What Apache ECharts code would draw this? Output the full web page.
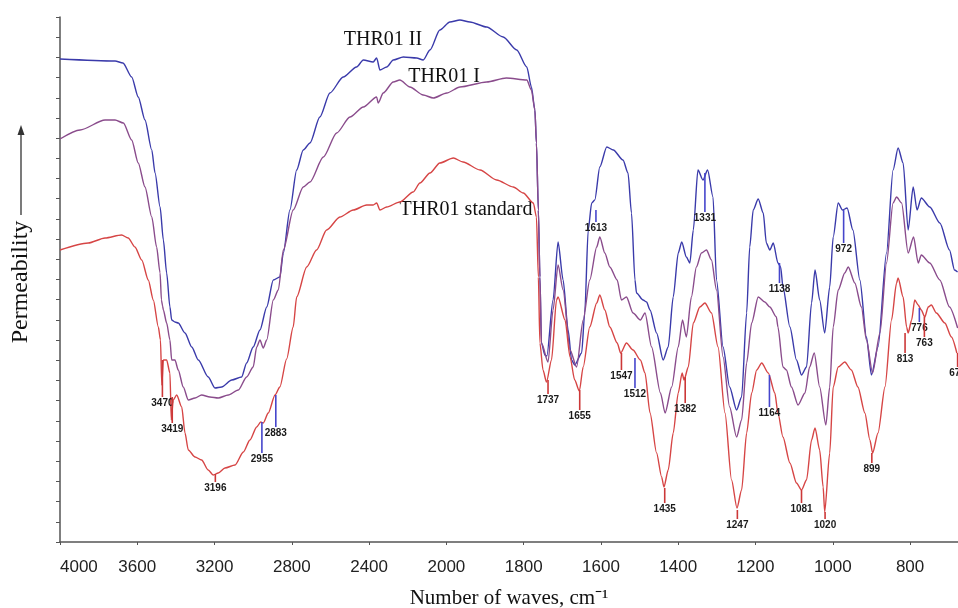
<!DOCTYPE html>
<html><head><meta charset="utf-8">
<script src="https://cdn.jsdelivr.net/npm/echarts@6/dist/echarts.min.js"></script>
<style>html,body{margin:0;padding:0;background:#fff}#c{width:958px;height:608px}</style>
</head><body><div id="c"></div>
<script>
// x tick labels (wavenumber, cm-1)
const tickWaves = [4000,3600,3200,2800,2400,2000,1800,1600,1400,1200,1000,800];

// [wavenumber, relative permeability]
const thr01II = [[4000,483],[3715,481],[3674,479],[3629,465],[3595,445],[3560,422],[3525,392],[3508,369],[3482,335],[3465,302],[3448,269],[3431,235],[3422,222],[3405,220],[3388,219],[3353,209],[3318,195],[3284,182],[3233,165],[3198,154],[3163,155],[3111,162],[3060,165],[3034,179],[3000,195],[2965,212],[2930,235],[2896,262],[2862,265],[2844,289],[2810,332],[2775,372],[2741,392],[2706,399],[2655,425],[2603,449],[2534,465],[2465,475],[2430,482],[2379,480],[2361,484],[2344,472],[2309,475],[2275,482],[2223,485],[2154,484],[2120,482],[2085,492],[2034,512],[1991,520],[1965,522],[1939,520],[1896,515],[1853,505],[1818,492],[1792,475],[1780,455],[1771,432],[1767,399],[1762,332],[1758,265],[1754,199],[1745,187],[1740,186],[1724,242],[1711,300],[1698,262],[1685,212],[1676,182],[1668,177],[1650,189],[1642,229],[1633,312],[1624,339],[1616,342],[1603,375],[1585,395],[1568,392],[1543,382],[1530,369],[1521,329],[1512,262],[1508,249],[1491,242],[1482,240],[1473,232],[1456,209],[1439,182],[1426,195],[1413,245],[1400,289],[1391,300],[1379,285],[1370,279],[1361,312],[1349,372],[1336,362],[1324,372],[1310,345],[1301,262],[1284,195],[1267,155],[1249,132],[1236,145],[1223,229],[1215,295],[1206,332],[1193,343],[1180,329],[1172,299],[1163,292],[1154,299],[1142,279],[1135,275],[1129,255],[1111,215],[1094,182],[1081,167],[1068,175],[1055,239],[1046,272],[1034,242],[1021,209],[1008,255],[999,305],[986,339],[975,332],[963,334],[948,312],[930,262],[913,205],[900,167],[883,195],[861,289],[844,372],[831,394],[818,379],[805,312],[792,355],[782,332],[771,344],[749,335],[723,319],[698,292],[685,272],[677,270]];

const thr01I = [[4000,403],[3896,412],[3767,422],[3715,422],[3672,419],[3629,402],[3595,379],[3560,355],[3525,325],[3500,295],[3482,269],[3475,242],[3469,236],[3465,232],[3448,219],[3431,202],[3422,182],[3405,182],[3388,172],[3362,155],[3336,142],[3301,144],[3267,147],[3224,145],[3181,144],[3129,147],[3077,152],[3034,165],[3000,175],[2982,195],[2965,202],[2948,194],[2930,202],[2896,242],[2870,252],[2844,292],[2793,332],[2741,355],[2706,360],[2637,385],[2568,409],[2499,425],[2430,435],[2361,445],[2353,439],[2327,449],[2275,460],[2241,462],[2189,455],[2120,447],[2068,444],[1999,449],[1965,455],[1896,460],[1845,464],[1792,462],[1780,452],[1771,432],[1767,399],[1762,332],[1758,265],[1754,199],[1737,180],[1724,232],[1711,277],[1698,252],[1680,192],[1663,175],[1646,222],[1629,262],[1611,295],[1603,305],[1590,289],[1577,275],[1558,262],[1547,242],[1534,245],[1517,229],[1498,222],[1486,229],[1469,195],[1446,149],[1434,129],[1417,155],[1400,195],[1389,222],[1379,205],[1366,245],[1353,275],[1340,289],[1327,292],[1314,282],[1301,252],[1284,185],[1267,135],[1249,105],[1236,122],[1223,179],[1210,219],[1193,245],[1176,240],[1163,235],[1146,225],[1142,215],[1129,175],[1120,172],[1107,155],[1090,137],[1072,149],[1060,175],[1048,189],[1034,155],[1018,117],[1008,155],[999,215],[986,252],[969,269],[960,275],[943,259],[926,235],[913,202],[897,169],[878,209],[861,279],[844,339],[835,345],[822,339],[805,289],[791,305],[779,279],[771,287],[749,279],[723,262],[698,235],[677,214]];

const thr01Std = [[4000,292],[3854,299],[3767,304],[3681,307],[3647,304],[3612,295],[3577,282],[3543,262],[3517,242],[3491,215],[3480,202],[3473,157],[3465,182],[3448,182],[3431,169],[3424,122],[3414,142],[3396,147],[3370,135],[3353,109],[3336,92],[3301,85],[3267,82],[3233,72],[3207,67],[3181,69],[3146,74],[3094,77],[3051,90],[3017,102],[2982,115],[2961,120],[2948,119],[2922,129],[2887,147],[2862,155],[2827,183],[2793,215],[2775,245],[2723,275],[2672,292],[2620,312],[2551,325],[2482,332],[2413,337],[2379,337],[2361,339],[2344,332],[2309,335],[2241,340],[2172,350],[2137,359],[2085,369],[2034,379],[1982,384],[1957,380],[1913,372],[1870,362],[1827,355],[1801,349],[1775,339],[1767,325],[1762,265],[1758,199],[1750,172],[1741,160],[1728,182],[1715,242],[1711,245],[1693,222],[1680,185],[1668,162],[1656,151],[1646,175],[1629,215],[1611,239],[1603,247],[1590,232],[1577,215],[1558,199],[1549,189],[1534,199],[1517,192],[1498,182],[1486,169],[1473,129],[1456,89],[1443,65],[1437,55],[1426,72],[1413,109],[1400,149],[1390,169],[1385,162],[1374,175],[1361,219],[1344,235],[1331,239],[1314,229],[1297,195],[1279,129],[1262,62],[1248,34],[1236,52],[1223,109],[1210,149],[1197,172],[1184,179],[1167,169],[1150,149],[1142,129],[1129,105],[1111,79],[1094,59],[1081,52],[1068,62],[1055,102],[1046,114],[1034,92],[1025,55],[1021,30],[1008,89],[999,155],[986,175],[969,180],[952,172],[935,155],[917,129],[904,102],[897,89],[883,109],[865,155],[848,222],[835,259],[831,264],[818,245],[809,215],[805,209],[796,222],[788,242],[779,237],[771,232],[762,225],[753,235],[745,237],[732,229],[710,219],[693,205],[679,189]];

// peak annotations
const peakWaves  = [3470,3419,3196,2955,2883,1737,1655,1613,1547,1512,1435,1382,1331,1247,1164,1138,1081,1020,972,899,813,776,763,677];
const peakLabels = ['3470','3419','3196','2955','2883','1737','1655','1613','1547','1512','1435','1382','1331','1247','1164','1138','1081','1020','972','899','813','776','763','675'];
const peakTop    = [182,145,68,120,147,162,152,332,189,184,54,165,369,32,167,279,52,30,332,89,209,234,225,189];
const peakBottom = [145,119,60,89,115,148,132,320,172,154,39,139,330,23,135,259,39,23,299,79,189,220,205,175];
const peakOn     = ['std','std','std','II','II','std','std','II','std','II','std','std','II','std','II','II','std','std','II','std','std','II','std','std'];

// the spectrometer plot is expanded 2x below 2000 cm-1
function toPos(w){ return w >= 2000 ? 4000 - w : 2000 + 2 * (2000 - w); }
function toWave(p){ return p <= 2000 ? 4000 - p : 2000 - (p - 2000) / 2; }

const colII = '#3a3aaa', colI = '#8a4c8c', colStd = '#d64545';
const markCol = {II: '#4646cc', std: '#cc3838'};

const chart = echarts.init(document.getElementById('c'), null, {renderer: 'canvas'});
const conv = arr => arr.map(d => [toPos(d[0]), d[1]]);
const lineSeries = (name, data, color) => ({
  name, type: 'line', data: conv(data), showSymbol: false, symbol: 'none',
  smooth: 0.25, smoothMonotone: 'x',
  lineStyle: {color, width: 1.4}, itemStyle: {color}, z: 2
});

chart.setOption({
  animation: false,
  backgroundColor: '#fff',
  grid: {left: 60, top: 17, width: 898, height: 525, containLabel: false, outerBoundsMode: 'none'},
  xAxis: {
    type: 'value', min: 0, max: toPos(676), interval: 400,
    axisLine: {show: true, lineStyle: {color: '#555', width: 1.5}},
    axisTick: {show: true, length: 3, lineStyle: {color: '#555'}},
    splitLine: {show: false},
    axisLabel: {
      fontFamily: 'Liberation Sans', fontSize: 17, color: '#222', margin: 17,
      showMaxLabel: false, alignMinLabel: 'left',
      formatter: p => { const w = Math.round(toWave(p)); return tickWaves.includes(w) ? String(w) : ''; }
    },
    name: 'Number of waves, cm\u207B\u00B9', nameLocation: 'middle', nameGap: 46,
    nameTextStyle: {fontFamily: 'Liberation Serif', fontSize: 21, color: '#111'}
  },
  yAxis: {
    type: 'value', min: 0, max: 525, interval: 525 / 26,
    axisLine: {show: true, lineStyle: {color: '#555', width: 1.5}},
    axisTick: {show: true, length: 4, lineStyle: {color: '#555'}},
    axisLabel: {show: false}, splitLine: {show: false}
  },
  series: [
    lineSeries('THR01 II', thr01II, colII),
    lineSeries('THR01 I', thr01I, colI),
    lineSeries('THR01 standard', thr01Std, colStd),
    {
      type: 'custom', name: 'peaks', clip: false, z: 3,
      data: peakWaves.map((w, i) => [toPos(w), peakTop[i], peakBottom[i], i]),
      encode: {x: 0, y: [1, 2]},
      renderItem: (params, api) => {
        const i = api.value(3);
        const p1 = api.coord([api.value(0), api.value(1)]);
        const p2 = api.coord([api.value(0), api.value(2)]);
        return {type: 'group', children: [
          {type: 'line', shape: {x1: p1[0], y1: p1[1], x2: p2[0], y2: p2[1]},
           style: {stroke: markCol[peakOn[i]], lineWidth: 1.6}},
          {type: 'text', x: p2[0], y: p2[1] + 1,
           style: {text: peakLabels[i], fill: '#1a1a1a', font: 'bold 10px "Liberation Sans"',
                   align: 'center', verticalAlign: 'top'}}
        ]};
      }
    }
  ],
  graphic: [
    {type: 'text', x: 21, y: 282, rotation: Math.PI / 2,
     style: {text: 'Permeability', font: '24px "Liberation Serif"', fill: '#111', align: 'center', verticalAlign: 'middle'}},
    {type: 'line', shape: {x1: 21, y1: 215, x2: 21, y2: 133}, style: {stroke: '#333', lineWidth: 1.3}},
    {type: 'polygon', shape: {points: [[21, 125], [17.5, 135], [24.5, 135]]}, style: {fill: '#333'}},
    {type: 'text', x: 383, y: 40, style: {text: 'THR01 II', font: '20px "Liberation Serif"', fill: '#111', align: 'center', verticalAlign: 'middle'}},
    {type: 'text', x: 444, y: 77, style: {text: 'THR01 I', font: '20px "Liberation Serif"', fill: '#111', align: 'center', verticalAlign: 'middle'}},
    {type: 'text', x: 466, y: 210, style: {text: 'THR01 standard', font: '20px "Liberation Serif"', fill: '#111', align: 'center', verticalAlign: 'middle'}}
  ]
});
</script></body></html>
